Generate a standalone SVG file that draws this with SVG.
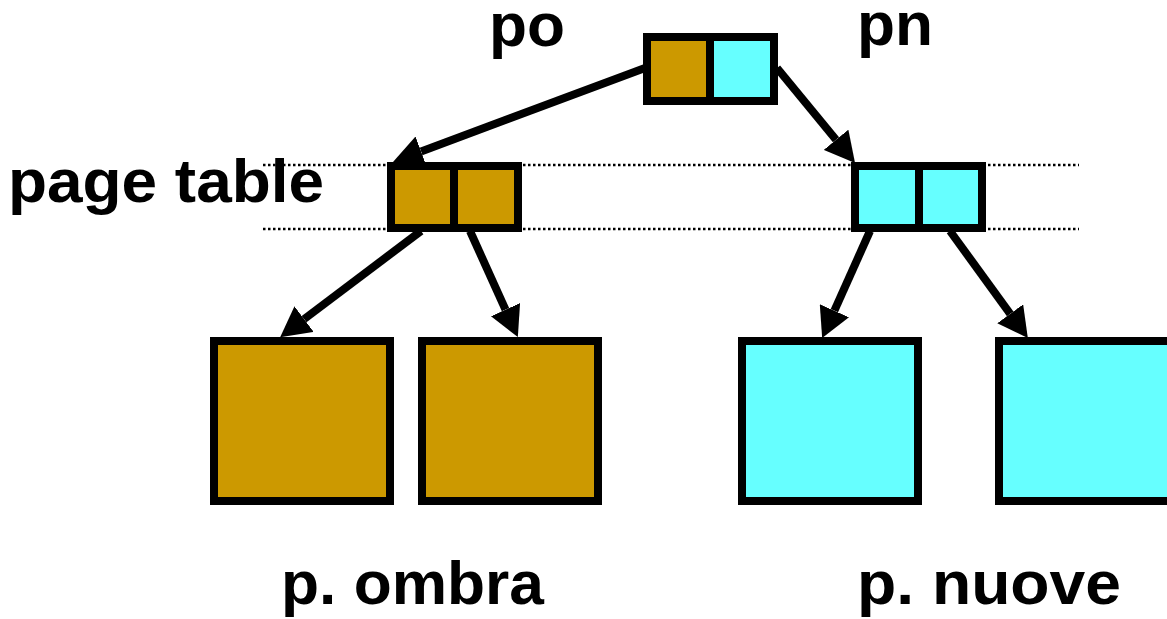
<svg xmlns="http://www.w3.org/2000/svg" width="1167" height="619" viewBox="0 0 1167 619">
  <style>
    .lbl { font-family: "Liberation Sans", Arial, sans-serif; font-weight: bold; font-size: 61px; fill: #000; }
    .cell { stroke: #000; stroke-width: 8; }
    .gold { fill: #CC9900; }
    .cyan { fill: #66FFFF; }
    .dot { stroke: #000; stroke-width: 2.5; stroke-dasharray: 2.5 2.5; fill: none; }
    .conn { stroke: #000; stroke-width: 8; fill: none; marker-end: url(#ah); }
  </style>
  <defs>
    <marker id="ah" markerUnits="userSpaceOnUse" viewBox="0 -16 30 32" refX="0" refY="0" markerWidth="30" markerHeight="32" orient="auto">
      <path d="M0,-16 L30,0 L0,16 z" fill="#000"/>
    </marker>
  </defs>
  <rect width="1167" height="619" fill="#fff"/>

  <g id="guides">
    <line class="dot" x1="263" y1="165" x2="1079" y2="165"/>
    <line class="dot" x1="263" y1="229" x2="1079" y2="229"/>
  </g>

  <g id="root">
    <rect class="cell gold" x="647" y="37" width="63" height="64"/>
    <rect class="cell cyan" x="710" y="37" width="64" height="64"/>
  </g>
  <g id="pt-old">
    <rect class="cell gold" x="391" y="166" width="63" height="62"/>
    <rect class="cell gold" x="454" y="166" width="64" height="62"/>
  </g>
  <g id="pt-new">
    <rect class="cell cyan" x="855" y="166" width="64" height="62"/>
    <rect class="cell cyan" x="919" y="166" width="63" height="62"/>
  </g>
  <g id="page-o1"><rect class="cell gold" x="214" y="341" width="176" height="160"/></g>
  <g id="page-o2"><rect class="cell gold" x="422" y="341" width="176" height="160"/></g>
  <g id="page-n1"><rect class="cell cyan" x="742" y="341" width="176" height="160"/></g>
  <g id="page-n2"><rect class="cell cyan" x="999" y="341" width="176" height="160"/></g>

  <g id="connectors">
    <line class="conn" x1="645" y1="68" x2="421.1" y2="151.5"/>
    <line class="conn" x1="777" y1="68" x2="836.0" y2="139.8"/>
    <line class="conn" x1="421" y1="231" x2="304.1" y2="319.1"/>
    <line class="conn" x1="470" y1="231" x2="505.5" y2="309.7"/>
    <line class="conn" x1="870" y1="231" x2="834.4" y2="310.7"/>
    <line class="conn" x1="950" y1="231" x2="1010.2" y2="313.8"/>
  </g>

  <g id="labels">
    <text class="lbl" x="489" y="46" textLength="76" lengthAdjust="spacingAndGlyphs">po</text>
    <text class="lbl" x="857" y="45" textLength="76" lengthAdjust="spacingAndGlyphs">pn</text>
    <text class="lbl" x="8" y="202" textLength="316" lengthAdjust="spacingAndGlyphs">page table</text>
    <text class="lbl" x="281" y="604" textLength="263" lengthAdjust="spacingAndGlyphs">p. ombra</text>
    <text class="lbl" x="857" y="604" textLength="264" lengthAdjust="spacingAndGlyphs">p. nuove</text>
  </g>
</svg>
